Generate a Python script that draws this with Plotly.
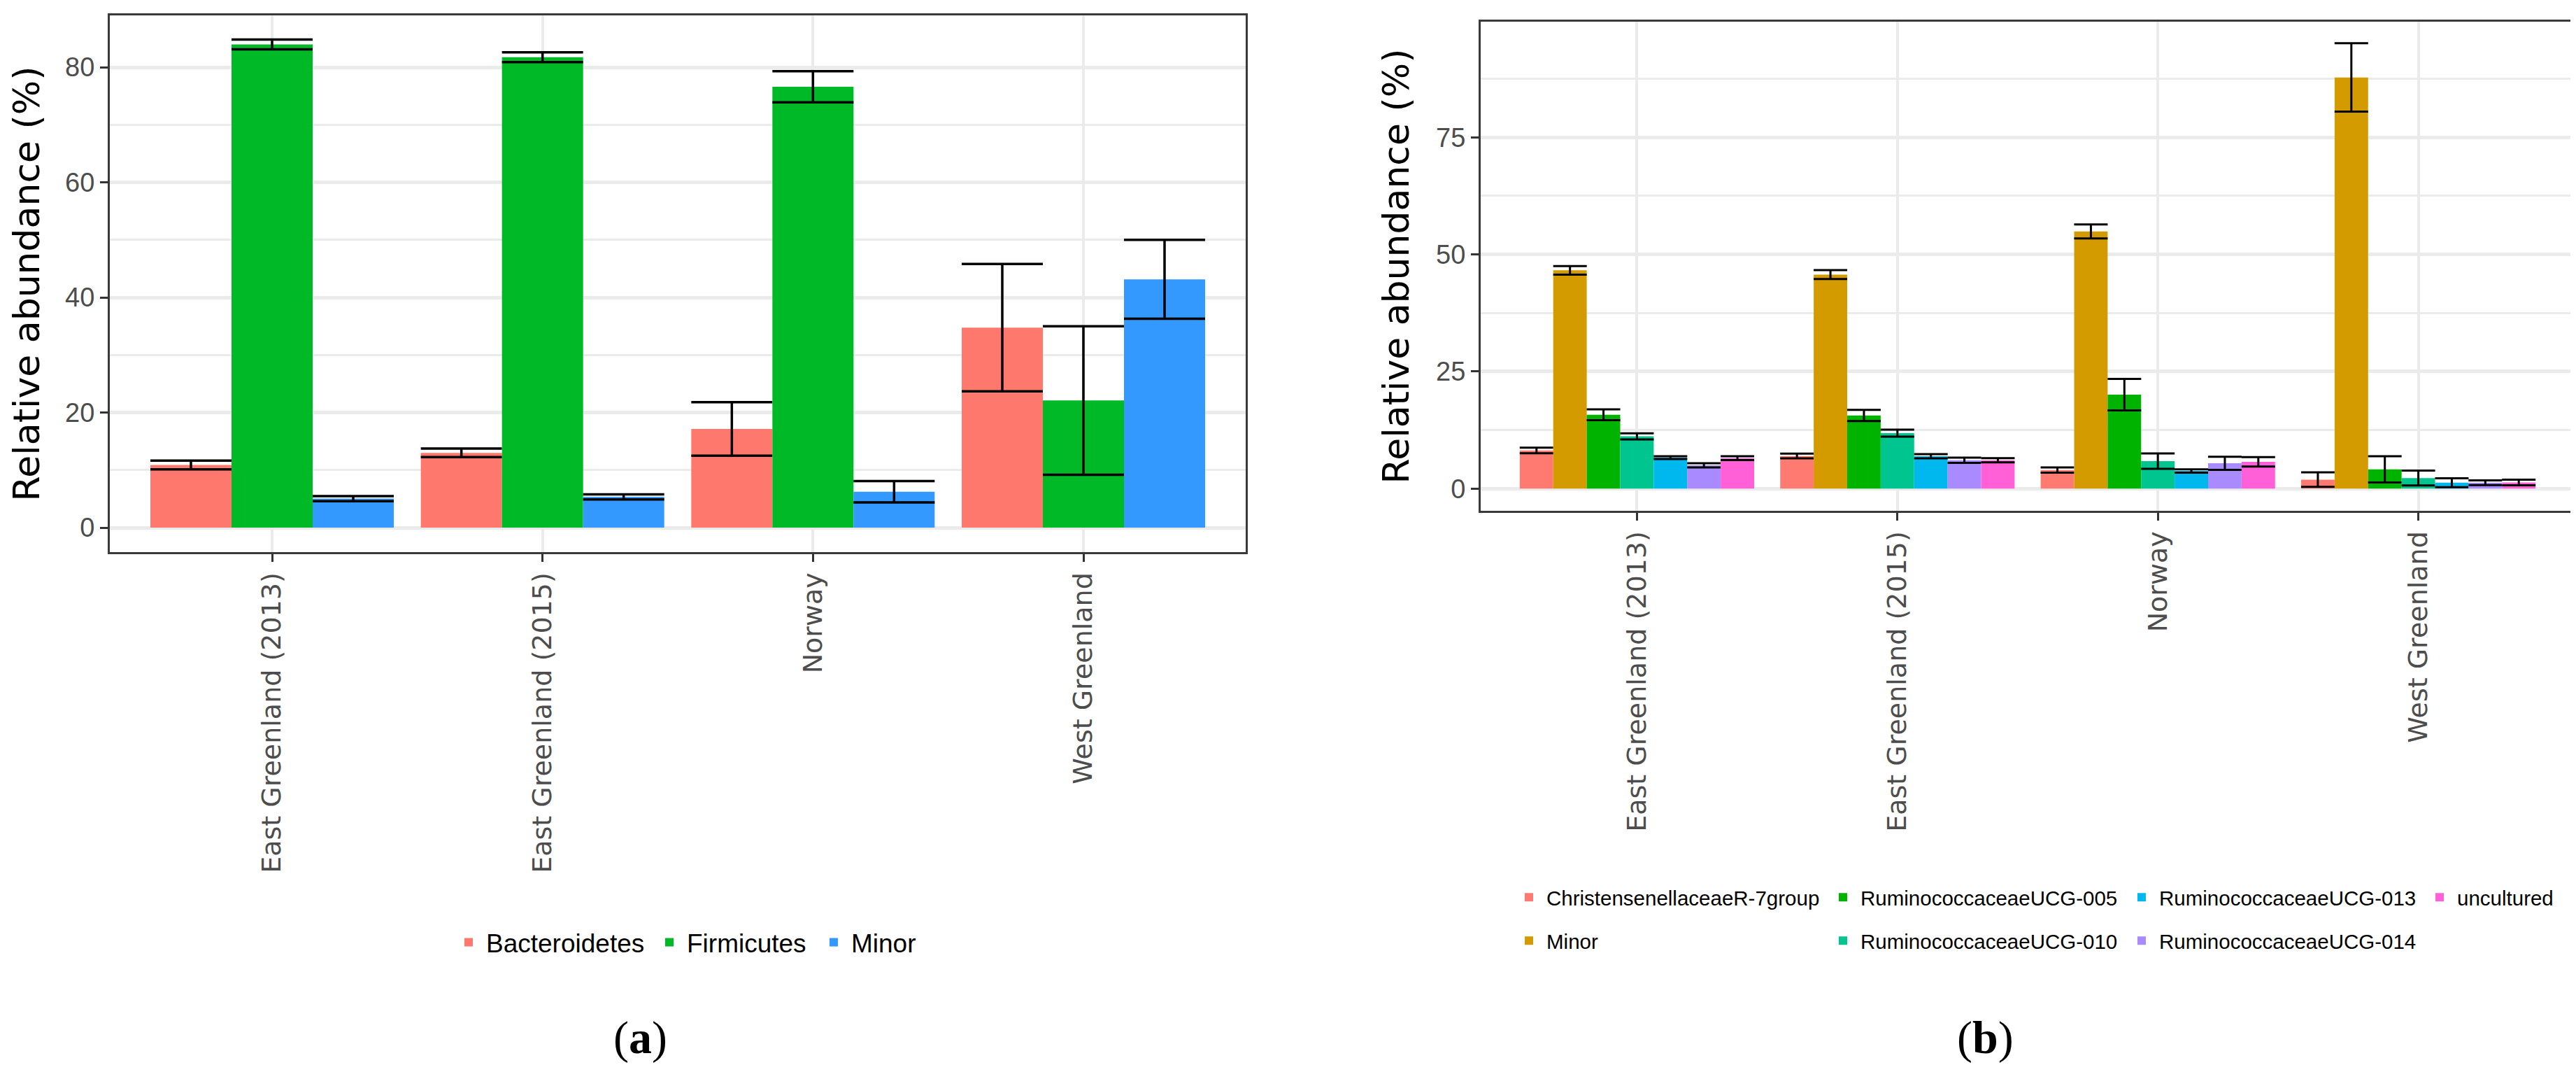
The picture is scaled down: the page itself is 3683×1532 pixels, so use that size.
import plotly.graph_objects as go

# ---------------- data ----------------
sites = ["East Greenland (2013)", "East Greenland (2015)", "Norway", "West Greenland"]

# panel (a): phyla
phyla = ["Bacteroidetes", "Firmicutes", "Minor"]
bacteroidetes_mean = [10.9, 13.0, 17.15, 34.75]
bacteroidetes_se = [0.75, 0.75, 4.65, 11.05]
firmicutes_mean = [83.95, 81.75, 76.6, 22.1]
firmicutes_se = [0.85, 0.85, 2.7, 12.9]
minor_a_mean = [5.05, 5.35, 6.25, 43.15]
minor_a_se = [0.45, 0.45, 1.85, 6.85]

# panel (b): genera
genera = ["ChristensenellaceaeR-7group", "Minor", "RuminococcaceaeUCG-005",
          "RuminococcaceaeUCG-010", "RuminococcaceaeUCG-013",
          "RuminococcaceaeUCG-014", "uncultured"]
christensenellaceae_mean = [8.15, 6.95, 3.95, 1.9]
christensenellaceae_se = [0.6, 0.5, 0.55, 1.55]
minor_b_mean = [46.6, 45.7, 54.9, 87.8]
minor_b_se = [0.9, 0.95, 1.5, 7.3]
ucg005_mean = [15.75, 15.6, 20.05, 4.1]
ucg005_se = [1.15, 1.2, 3.35, 2.8]
ucg010_mean = [11.15, 11.85, 5.85, 2.25]
ucg010_se = [0.65, 0.75, 1.65, 1.6]
ucg013_mean = [6.6, 6.9, 3.75, 1.25]
ucg013_se = [0.3, 0.45, 0.35, 0.95]
ucg014_mean = [4.95, 6.05, 5.4, 1.25]
ucg014_se = [0.45, 0.55, 1.4, 0.5]
uncultured_mean = [6.5, 6.05, 5.7, 1.3]
uncultured_se = [0.4, 0.45, 1.0, 0.6]

y_title = "Relative abundance (%)"
panel_labels = ["(<b>a</b>)", "(<b>b</b>)"]

# ---------------- styling ----------------
W, H = 3683, 1532
colors_a = ["#FF786E", "#00B926", "#3399FF"]
colors_b = ["#FF7B72", "#D39B00", "#00B300", "#00C58F", "#00B8EE", "#A98BFF", "#FF60D8"]

means_a = [bacteroidetes_mean, firmicutes_mean, minor_a_mean]
ses_a = [bacteroidetes_se, firmicutes_se, minor_a_se]
means_b = [christensenellaceae_mean, minor_b_mean, ucg005_mean, ucg010_mean,
           ucg013_mean, ucg014_mean, uncultured_mean]
ses_b = [christensenellaceae_se, minor_b_se, ucg005_se, ucg010_se,
         ucg013_se, ucg014_se, uncultured_se]

# legend layout for panel (b): 2 rows (legend2 / legend3), aligned columns
legend_b_row = ["legend2", "legend3", "legend2", "legend3", "legend2", "legend3", "legend2"]
legend_b_width = [394, 394, 372, 372, 371, 371, None]
legend_a_width = [232, 180, None]

fig = go.Figure()

for name, m, s, c, lw in zip(phyla, means_a, ses_a, colors_a, legend_a_width):
    fig.add_trace(go.Bar(
        x=sites, y=m, name=name, marker=dict(color=c, line=dict(width=0)),
        error_y=dict(type="data", array=s, color="black", thickness=3.5, width=58),
        xaxis="x", yaxis="y", legend="legend", legendwidth=lw,
    ))

for name, m, s, c, lg, lw in zip(genera, means_b, ses_b, colors_b, legend_b_row, legend_b_width):
    fig.add_trace(go.Bar(
        x=sites, y=m, name=name, marker=dict(color=c, line=dict(width=0)),
        error_y=dict(type="data", array=s, color="black", thickness=3, width=24),
        xaxis="x2", yaxis="y2", legend=lg, legendwidth=lw,
    ))

grid = "#EBEBEB"
border = "#3A3A3A"
tickfont = dict(family="Liberation Sans, Arial, sans-serif", size=38, color="#4D4D4D")
xtickfont = dict(family="DejaVu Sans, sans-serif", size=38, color="#4D4D4D")
titlefont = dict(family="DejaVu Sans, sans-serif", size=52, color="black")


def xax(domain, anchor):
    return dict(domain=domain, anchor=anchor, type="category", categoryorder="array",
                categoryarray=sites, range=[-0.6, 3.6], showgrid=True, gridcolor=grid,
                gridwidth=4, ticks="outside", ticklen=11, tickwidth=3, tickcolor="#333333",
                tickangle=-90, tickfont=xtickfont, showline=True, mirror=True,
                linecolor=border, linewidth=3, zeroline=False)


def yax(domain, anchor, rng, dtick):
    return dict(domain=domain, anchor=anchor, range=rng, tick0=0, dtick=dtick,
                showgrid=True, gridcolor=grid, gridwidth=4.5,
                minor=dict(tick0=0, dtick=dtick / 2, showgrid=True, gridcolor=grid, gridwidth=2.5),
                ticks="outside", ticklen=11, tickwidth=3, tickcolor="#333333",
                tickfont=tickfont, showline=True, mirror=True, linecolor=border,
                linewidth=3, zeroline=False,
                title=dict(text=y_title, font=titlefont, standoff=22))


legend_common = dict(orientation="h", xanchor="left", yanchor="middle",
                     bgcolor="rgba(0,0,0,0)", itemwidth=40, itemclick=False,
                     itemdoubleclick=False)

fig.update_layout(
    width=W, height=H, margin=dict(l=0, r=0, t=0, b=0),
    paper_bgcolor="white", plot_bgcolor="white",
    barmode="group", bargap=0.1, bargroupgap=0,
    xaxis=xax([149 / W, 1773 / W], "y"),
    yaxis=yax([1 - 781 / H, 1 - 14 / H], "x", [-4.24, 89.0], 20),
    xaxis2=xax([2109 / W, 3673 / W], "y2"),
    yaxis2=yax([1 - 722 / H, 1 - 23 / H], "x2", [-4.75, 99.7], 25),
    legend=dict(legend_common, x=637 / W, y=1 - 1339 / H,
                font=dict(family="Liberation Sans, Arial, sans-serif", size=37, color="black")),
    legend2=dict(legend_common, x=2153 / W, y=1 - 1274.5 / H,
                 font=dict(family="Liberation Sans, Arial, sans-serif", size=29.5, color="black")),
    legend3=dict(legend_common, x=2153 / W, y=1 - 1336.6 / H,
                 font=dict(family="Liberation Sans, Arial, sans-serif", size=29.5, color="black")),
    annotations=[
        dict(text=panel_labels[0], x=907 / W, y=1 - 1475 / H, xref="paper", yref="paper",
             showarrow=False, xanchor="center", yanchor="middle",
             font=dict(family="Liberation Serif, serif", size=66, color="black")),
        dict(text=panel_labels[1], x=2830 / W, y=1 - 1475 / H, xref="paper", yref="paper",
             showarrow=False, xanchor="center", yanchor="middle",
             font=dict(family="Liberation Serif, serif", size=66, color="black")),
    ],
)

fig.write_html("out.html")
